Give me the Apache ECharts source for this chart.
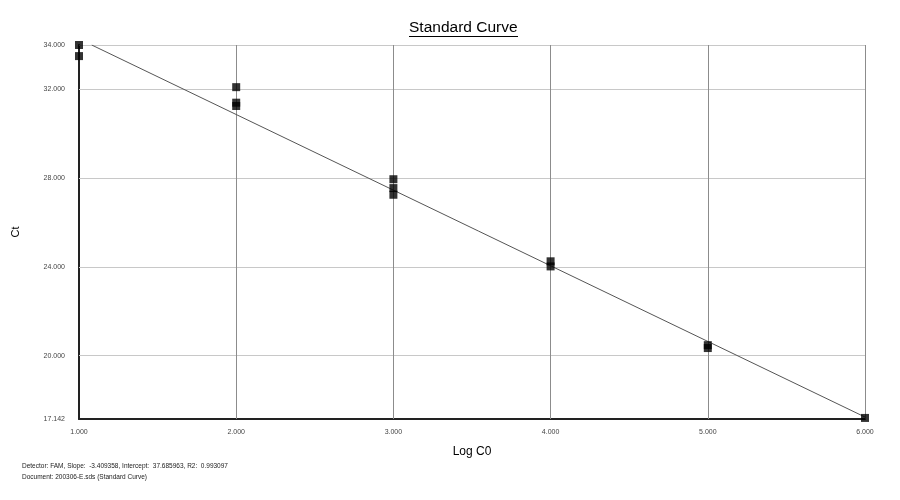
<!DOCTYPE html>
<html><head><meta charset="utf-8">
<script src="https://cdn.jsdelivr.net/npm/echarts@6/dist/echarts.min.js"></script>
<style>html,body{margin:0;padding:0;background:#fff}#c{width:900px;height:500px}</style>
</head><body><div id="c"></div>
<script>
// Data
const logC0 = [1, 1, 2, 2, 2, 3, 3, 3, 4, 4, 5, 5, 6];
const ctValues = [34.0, 33.5, 32.1, 31.4, 31.25, 27.95, 27.55, 27.25, 24.25, 24.02, 20.47, 20.34, 17.19];
const fitX = [1.081, 6.0];
const fitY = [34.0, 17.23];
const yTicks = [17.142, 20, 24, 28, 32, 34];
const xTicks = [1, 2, 3, 4, 5, 6];
const yGrid = [20, 24, 28, 32, 34];
const xGrid = [2, 3, 4, 5, 6];
const footer1 = 'Detector: FAM, Slope:  -3.409358, Intercept:  37.685963, R2:  0.993097';
const footer2 = 'Document: 200306-E.sds (Standard Curve)';

const font = 'Liberation Sans, Arial, sans-serif';
const chart = echarts.init(document.getElementById('c'));
chart.setOption({
  animation: false,
  backgroundColor: '#fff',
  grid: { left: 79, right: 35, top: 45, bottom: 81 },
  xAxis: {
    type: 'value', min: 1, max: 6, interval: 1,
    name: 'Log C0', nameLocation: 'middle', nameGap: 27,
    nameTextStyle: { fontFamily: font, fontSize: 12, color: '#000' },
    axisLine: { show: true, onZero: false, lineStyle: { color: '#222', width: 2 } },
    axisTick: { show: false },
    splitLine: { show: false },
    axisLabel: { fontFamily: font, fontSize: 7, color: '#444', margin: 10,
      formatter: v => v.toFixed(3) }
  },
  yAxis: {
    type: 'value', min: 17.142, max: 34,
    name: 'Ct', nameLocation: 'middle', nameGap: 58, nameRotate: 90,
    nameTextStyle: { fontFamily: font, fontSize: 11, color: '#000' },
    axisLine: { show: true, onZero: false, lineStyle: { color: '#222', width: 2 } },
    axisTick: { show: false, customValues: yTicks },
    splitLine: { show: false },
    axisLabel: { fontFamily: font, fontSize: 7, color: '#444', margin: 14,
      customValues: yTicks, formatter: v => Number(v).toFixed(3) }
  },
  series: [
    {
      type: 'line', silent: true, symbol: 'none', z: 1, zlevel: 0,
      data: [],
      markLine: {
        silent: true, symbol: 'none', label: { show: false }, z: 1,
        data: yGrid.map(v => ({ yAxis: v, lineStyle: { color: '#c8c8c8', width: 1, type: 'solid' } }))
          .concat(xGrid.map(v => ({ xAxis: v, lineStyle: { color: '#8c8c8c', width: 1, type: 'solid' } })))
      }
    },
    {
      type: 'line', symbol: 'none', z: 5, zlevel: 1,
      lineStyle: { color: '#555', width: 1 },
      data: fitX.map((x, i) => [x, fitY[i]])
    },
    {
      type: 'scatter', symbol: 'rect', symbolSize: 8, z: 10, zlevel: 2,
      itemStyle: { color: '#000' },
      data: logC0.map((x, i) => [x, ctValues[i]])
    }
  ],
  graphic: [
    { type: 'text', left: 409, top: 20, z: 10,
      style: { text: 'Standard Curve', font: '15.5px ' + font, fill: '#000' } },
    { type: 'line', z: 10, shape: { x1: 409, y1: 36.5, x2: 518, y2: 36.5 },
      style: { stroke: '#000', lineWidth: 1 } },
    { type: 'text', left: 22, top: 463,
      style: { text: footer1, font: '6.5px ' + font, fill: '#222' } },
    { type: 'text', left: 22, top: 474,
      style: { text: footer2, font: '6.5px ' + font, fill: '#222' } }
  ]
});
</script></body></html>
